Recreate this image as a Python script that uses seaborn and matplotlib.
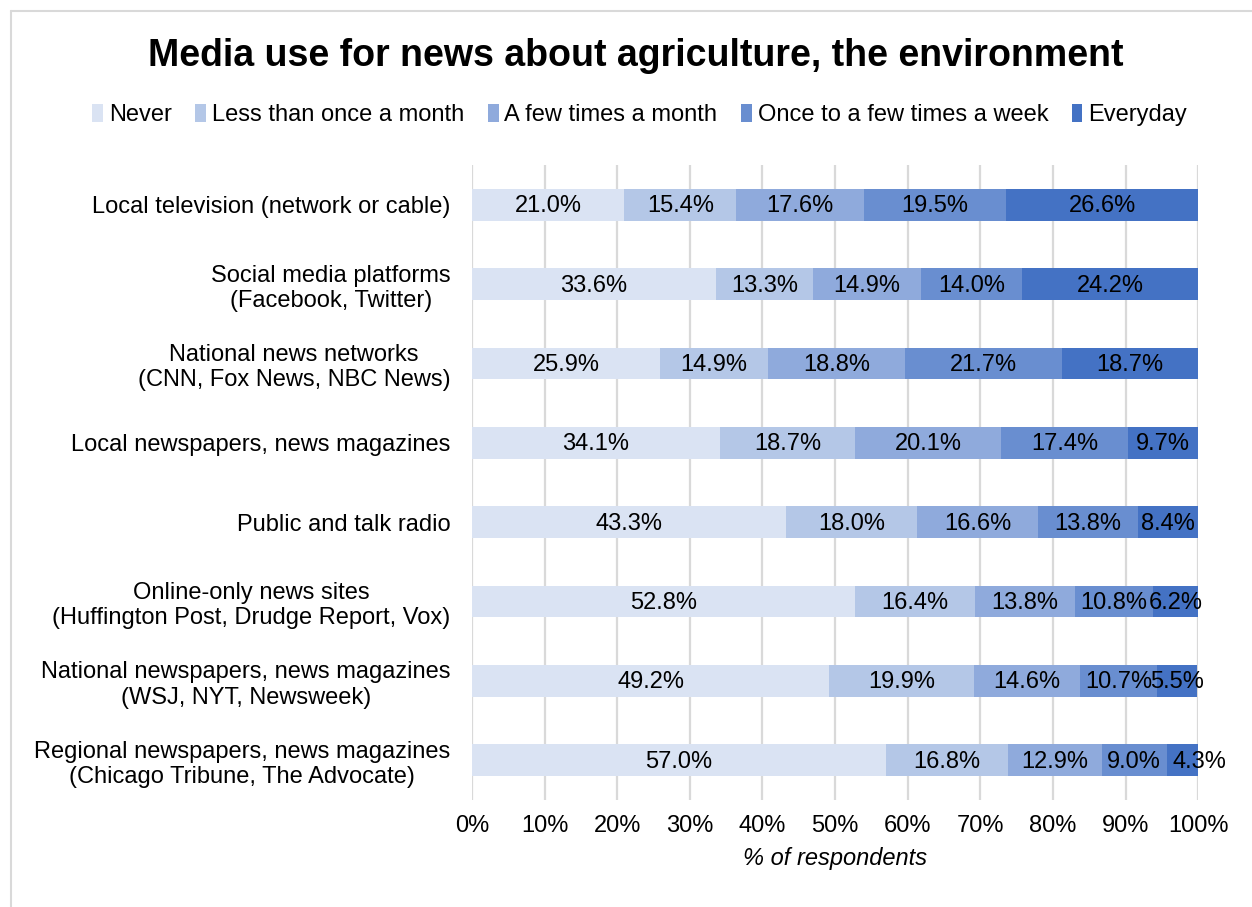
import matplotlib
matplotlib.use("Agg")
import matplotlib.pyplot as plt
from matplotlib.lines import Line2D
from matplotlib.patches import Patch
import numpy as np
import pandas as pd
import seaborn as sns

categories = [
    "Local television (network or cable)",
    "Social media platforms\n(Facebook, Twitter)",
    "National news networks\n(CNN, Fox News, NBC News)",
    "Local newspapers, news magazines",
    "Public and talk radio",
    "Online-only news sites\n(Huffington Post, Drudge Report, Vox)",
    "National newspapers, news magazines\n(WSJ, NYT, Newsweek)",
    "Regional newspapers, news magazines\n(Chicago Tribune, The Advocate)",
]
levels = ["Never", "Less than once a month", "A few times a month",
          "Once to a few times a week", "Everyday"]
never = [21.0, 33.6, 25.9, 34.1, 43.3, 52.8, 49.2, 57.0]
less_monthly = [15.4, 13.3, 14.9, 18.7, 18.0, 16.4, 19.9, 16.8]
few_monthly = [17.6, 14.9, 18.8, 20.1, 16.6, 13.8, 14.6, 12.9]
weekly = [19.5, 14.0, 21.7, 17.4, 13.8, 10.8, 10.7, 9.0]
everyday = [26.6, 24.2, 18.7, 9.7, 8.4, 6.2, 5.5, 4.3]
colors = ["#DAE3F3", "#B4C7E7", "#8FAADC", "#698ED0", "#4472C4"]

values = np.array([never, less_monthly, few_monthly, weekly, everyday])
cum = values.cumsum(axis=0)

font = "Liberation Sans"
sns.set_theme(style="white")
plt.rcParams["font.family"] = [font, "DejaVu Sans"]
plt.rcParams["text.color"] = "black"
plt.rcParams["xtick.color"] = "black"
plt.rcParams["ytick.color"] = "black"
plt.rcParams["axes.labelcolor"] = "black"

fs = 17

fig = plt.figure(figsize=(12.52, 9.07), dpi=100)
ax = fig.add_axes([0.377, 0.118, 0.580, 0.700])

# Stacked bars: draw cumulative totals from the outermost level inward
for i in range(len(levels) - 1, -1, -1):
    df = pd.DataFrame({"category": categories, "total": cum[i]})
    sns.barplot(data=df, x="total", y="category", orient="h", color=colors[i],
                width=0.4, ax=ax, saturation=1, linewidth=0, zorder=2)

# Segment labels, centred; very thin end segments get nudged right
for i in range(len(levels)):
    for j in range(len(categories)):
        v = values[i, j]
        nudge = 12 if v < 5 else 0
        ax.annotate(f"{v:.1f}%", xy=(cum[i, j] - v / 2, j),
                    xytext=(nudge, -1), textcoords="offset points",
                    ha="center", va="center", fontsize=fs, color="black",
                    zorder=3, annotation_clip=False)

ax.set_xlim(0, 100)
ax.set_ylim(len(categories) - 0.5, -0.5)
ax.set_xticks(np.arange(0, 101, 10))
ax.set_xticklabels([f"{t}%" for t in range(0, 101, 10)], fontsize=fs)
ax.set_yticks(range(len(categories)))
ax.set_yticklabels(categories, fontsize=fs, multialignment="center")
ax.tick_params(axis="y", length=0, pad=15.5)
ax.tick_params(axis="x", length=0, pad=11)
ax.xaxis.grid(True, color="#D9D9D9", linewidth=1.6, zorder=0)
ax.set_axisbelow(True)
for s in ax.spines.values():
    s.set_visible(False)
ax.set_ylabel("")
ax.set_xlabel("% of respondents", fontsize=fs, fontstyle="italic", labelpad=7)

fig.text(0.508, 0.938, "Media use for news about agriculture, the environment",
         ha="center", va="center", fontsize=27, fontweight="bold")

handles = [Patch(facecolor=c, edgecolor="none") for c in colors]
fig.legend(handles, levels, loc="center", bbox_to_anchor=(0.511, 0.873), ncol=5,
           frameon=False, fontsize=fs, handlelength=0.45, handleheight=0.8,
           handletextpad=0.25, columnspacing=1.0)

# Outer frame (top and left edges)
fig.add_artist(Line2D([10.5 / 1252, 1.0], [1 - 10.5 / 907, 1 - 10.5 / 907],
                      color="#D9D9D9", linewidth=1.5, transform=fig.transFigure))
fig.add_artist(Line2D([10.5 / 1252, 10.5 / 1252], [0.0, 1 - 10.5 / 907],
                      color="#D9D9D9", linewidth=1.5, transform=fig.transFigure))

fig.savefig("out.png", dpi=100, facecolor="white")
